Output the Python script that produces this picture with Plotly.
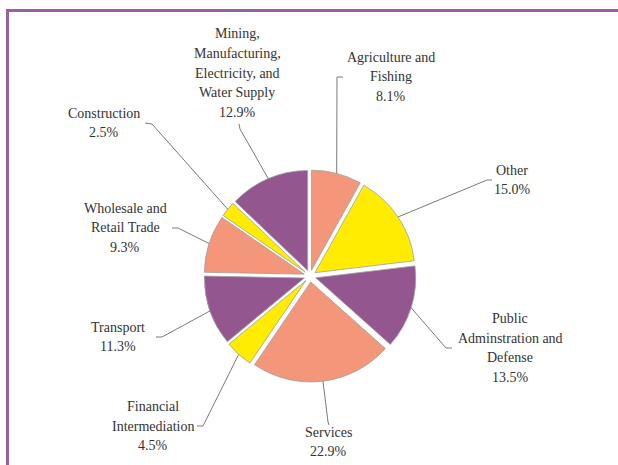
import math
import plotly.graph_objects as go

# data (clockwise from 12 o'clock)
sectors = ["Agriculture and<br>Fishing", "Other", "Public<br>Adminstration and<br>Defense",
           "Services", "Financial<br>Intermediation", "Transport",
           "Wholesale and<br>Retail Trade", "Construction",
           "Mining,<br>Manufacturing,<br>Electricity, and<br>Water Supply"]
shares = [8.1, 15.0, 13.5, 22.9, 4.5, 11.3, 9.3, 2.5, 12.9]
colors = ["#F4967A", "#FFEC00", "#93568E", "#F4967A", "#FFEC00", "#93568E",
          "#F4967A", "#FFEC00", "#93568E"]

# label block centres and leader line elbows / stub ends (pixels)
label_pos = [(391, 77), (512, 180), (510, 348), (329, 442), (153, 426),
             (118, 337), (125, 228), (104, 123), (237, 73)]
elbows = [(337, 77), (487, 180), (446, 348), (328, 422), (203, 426),
          (162, 337), (178, 228), (152, 124), (240, 129)]
stub_ends = [(343, 77), (492, 180), (452, 348), (329, 425), (197, 426),
             (156, 337), (172, 228), (145, 123), (239, 124)]

W, H = 618, 465
CX, CY = 310, 276      # pie centre in pixels
HALF = 106             # half-size of pie domain in pixels
PULL = 0.06
LINE_H = 19.6
FONT = "Liberation Serif, Times New Roman, serif"


def pp(x, y):
    return x / W, 1 - y / H


fig = go.Figure(go.Pie(
    values=shares,
    labels=[s.replace("<br>", " ") for s in sectors],
    sort=False,
    direction="clockwise",
    rotation=0,
    marker=dict(colors=colors, line=dict(color="#a0a0a0", width=0.8)),
    pull=[PULL] * len(shares),
    textinfo="none",
    hoverinfo="label+percent",
    showlegend=False,
    domain=dict(x=[(CX - HALF) / W, (CX + HALF) / W],
                y=[(H - CY - HALF) / H, (H - CY + HALF) / H]),
))

total = sum(shares)
cum = 0
R = 106
for name, v, (tx, ty), el, st in zip(sectors, shares, label_pos, elbows, stub_ends):
    mid = (cum + v / 2) / total * 2 * math.pi
    cum += v
    sx = CX + R * math.sin(mid)
    sy = CY - R * math.cos(mid)
    # leader line: slice edge -> elbow -> stub
    pts = [pp(sx, sy), pp(*el), pp(*st)]
    path = "M {} {} L {} {} L {} {}".format(*[c for p in pts for c in p])
    fig.add_shape(type="path", xref="paper", yref="paper", path=path,
                  line=dict(color="#7a7a7a", width=1))
    # label text, one annotation per line for Times-like spacing
    lines = name.split("<br>") + [f"{v:.1f}%"]
    n = len(lines)
    for i, t in enumerate(lines):
        ly = ty + (i - (n - 1) / 2) * LINE_H
        x, y = pp(tx, ly)
        fig.add_annotation(
            x=x, y=y, xref="paper", yref="paper", text=t, showarrow=False,
            xanchor="center", yanchor="middle",
            font=dict(family=FONT, size=14, color="#333333"),
        )

# purple frame (top and left)
fig.add_shape(type="line", xref="paper", yref="paper", x0=6 / W, x1=1, y0=1 - 10.5 / H, y1=1 - 10.5 / H,
              line=dict(color="#9B5E9E", width=3))
fig.add_shape(type="line", xref="paper", yref="paper", x0=7.5 / W, x1=7.5 / W, y0=0, y1=1 - 9 / H,
              line=dict(color="#9B5E9E", width=3))

fig.update_layout(
    width=W, height=H,
    margin=dict(l=0, r=0, t=0, b=0),
    paper_bgcolor="white", plot_bgcolor="white",
)

fig.write_html("out.html", config={"displayModeBar": False},
               post_script="document.body.style.margin='0';")
